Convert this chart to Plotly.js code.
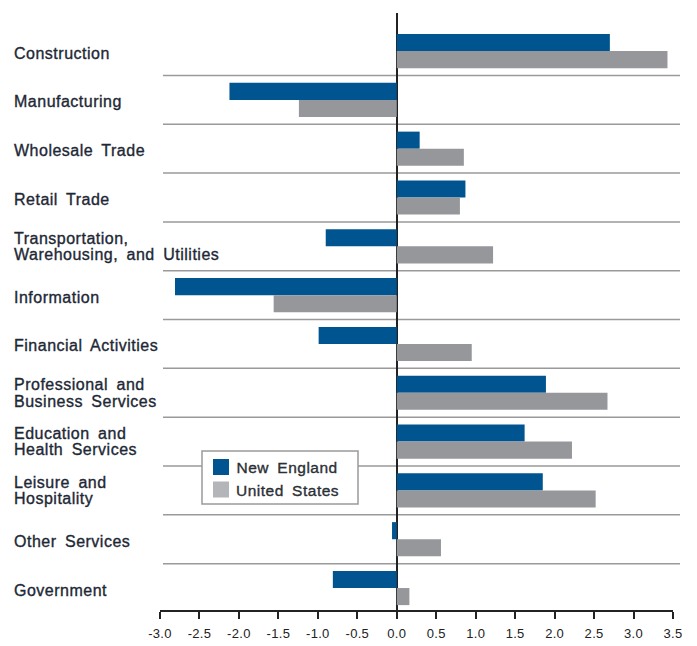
<!DOCTYPE html>
<html>
<head>
<meta charset="utf-8">
<script src="https://cdn.plot.ly/plotly-3.0.1.min.js"></script>
<style>
html,body{margin:0;padding:0;background:#fff;}
#chart{width:697px;height:646px;}
#chart .annotation-text{letter-spacing:0.5px; word-spacing:3.5px; stroke:#1e2835; stroke-width:0.35px;}
#chart .xtick text{letter-spacing:0.3px;}
</style>
</head>
<body>
<div id="chart"></div>
<script>
const categories = [
  "Construction",
  "Manufacturing",
  "Wholesale Trade",
  "Retail Trade",
  "Transportation,<br>Warehousing, and Utilities",
  "Information",
  "Financial Activities",
  "Professional and<br>Business Services",
  "Education and<br>Health Services",
  "Leisure and<br>Hospitality",
  "Other Services",
  "Government"
];
const seriesNames = ["New England", "United States"];
const newEngland = [2.70, -2.12, 0.29, 0.87, -0.90, -2.81, -0.99, 1.89, 1.62, 1.85, -0.06, -0.81];
const unitedStates = [3.43, -1.24, 0.85, 0.80, 1.22, -1.56, 0.95, 2.67, 2.22, 2.52, 0.56, 0.16];
const xTicks = [-3.0, -2.5, -2.0, -1.5, -1.0, -0.5, 0.0, 0.5, 1.0, 1.5, 2.0, 2.5, 3.0, 3.5];

const seriesColors = ["#00548f", "#96979b"];
const legendSwatchColors = ["#00548f", "#b4b5b8"];

const W = 697, H = 646;
const M = {l: 160, r: 24, t: 13, b: 36};
const plotW = W - M.l - M.r, plotH = H - M.t - M.b;
const px = x => (x - M.l) / plotW;          // page pixel x -> paper
const py = y => (H - M.b - y) / plotH;      // page pixel y -> paper

const idx = categories.map((c, i) => i);
const fontFamily = "Liberation Sans, Arial, sans-serif";
const labelFont = {family: fontFamily, size: 16, color: "#1e2835"};

const traces = [
  {type: "bar", orientation: "h", name: seriesNames[0], y: idx, x: newEngland,
   marker: {color: seriesColors[0]}, showlegend: false},
  {type: "bar", orientation: "h", name: seriesNames[1], y: idx, x: unitedStates,
   marker: {color: seriesColors[1]}, showlegend: false}
];

const shapes = [];
for (let i = 0; i < categories.length - 1; i++) {
  shapes.push({type: "line", xref: "paper", yref: "y", x0: px(163), x1: px(680), y0: i + 0.5, y1: i + 0.5,
    line: {color: "#9a9a9a", width: 1.5}, layer: "below"});
}

const annotations = [];
const pitch = 16.5;
categories.forEach((c, i) => {
  const lines = c.split("<br>");
  const n = lines.length;
  lines.forEach((ln, k) => {
    annotations.push({
      xref: "paper", yref: "y", x: px(12), y: i,
      yshift: -((k - (n - 1) / 2) * pitch) - (n === 1 ? 2 : 0),
      text: ln, showarrow: false, xanchor: "left", yanchor: "middle", align: "left",
      font: labelFont
    });
  });
});

// legend box (drawn manually)
shapes.push({type: "rect", xref: "paper", yref: "paper", x0: px(202), x1: px(358), y0: py(504), y1: py(451),
  line: {color: "#9a9a9a", width: 1.5}, fillcolor: "#fff", layer: "above"});
seriesNames.forEach((name, k) => {
  const top = 459 + k * 22.5;
  shapes.push({type: "rect", xref: "paper", yref: "paper", x0: px(213), x1: px(229), y0: py(top + 16), y1: py(top),
    line: {width: 0}, fillcolor: legendSwatchColors[k], layer: "above"});
  annotations.push({xref: "paper", yref: "paper", x: px(239), y: py(top + 8.5), text: name, showarrow: false,
    xanchor: "left", yanchor: "middle", font: {family: fontFamily, size: 15.5, color: "#333"}});
});

const layout = {
  width: W, height: H,
  margin: M,
  paper_bgcolor: "#fff", plot_bgcolor: "rgba(0,0,0,0)",
  barmode: "group", bargap: 0.30, bargroupgap: 0,
  showlegend: false,
  xaxis: {range: [-3.0, 3.5], tickvals: xTicks, ticktext: xTicks.map(v => v.toFixed(1)),
    showgrid: false, zeroline: true, zerolinecolor: "#222", zerolinewidth: 2.5,
    showline: true, linecolor: "#222", linewidth: 2, ticks: "outside", ticklen: 7, tickwidth: 2,
    tickcolor: "#222", fixedrange: true, ticklabelstandoff: 3,
    tickfont: {family: fontFamily, size: 13, color: "#222"}},
  yaxis: {range: [11.45, -0.78], showgrid: false, zeroline: false, showticklabels: false,
    showline: false, ticks: "", fixedrange: true},
  shapes: shapes,
  annotations: annotations
};

Plotly.newPlot("chart", traces, layout, {displayModeBar: false, staticPlot: true});
</script>
</body>
</html>
